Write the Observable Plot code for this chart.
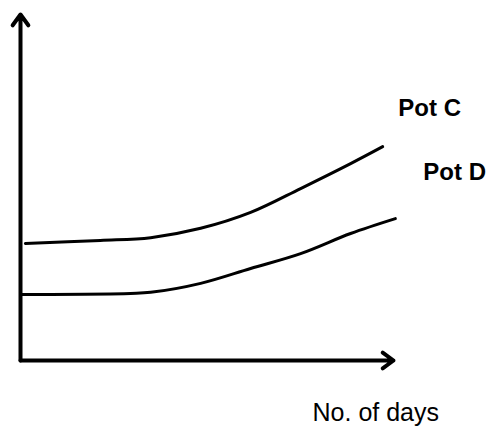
<!DOCTYPE html>
<html>
<head>
<meta charset="utf-8">
<script src="https://cdn.jsdelivr.net/npm/d3@7"></script>
<script src="https://cdn.jsdelivr.net/npm/@observablehq/plot@0.6"></script>
<style>
  html, body { margin: 0; padding: 0; background: #fff; }
  #chart svg { display: block; }
</style>
</head>
<body>
<div id="chart"></div>
<script>
// Series: day position vs. height (arbitrary units)
const daysC = [0.13, 2.14, 3.49, 4.83, 6.17, 7.51, 8.85, 9.71];
const valuesC = [3.38, 3.47, 3.55, 3.82, 4.28, 4.97, 5.69, 6.18];
const daysD = [0, 2.95, 3.49, 4.83, 6.17, 7.51, 8.85, 10.05];
const valuesD = [1.91, 1.94, 1.97, 2.23, 2.66, 3.09, 3.67, 4.10];

const seriesNames = ["Pot C", "Pot D"];
const labelX = [10.13, 10.80];
const labelY = [7.28, 5.43];
const xAxisTitle = "No. of days";
const xAxisTitlePos = [7.83, -1.52];
const axisMax = [10, 10];

const lineC = daysC.map((d, i) => ({day: d, value: valuesC[i]}));
const lineD = daysD.map((d, i) => ({day: d, value: valuesD[i]}));
const labels = seriesNames.map((s, i) => ({name: s, x: labelX[i], y: labelY[i]}));

const chart = Plot.plot({
  width: 497,
  height: 429,
  marginLeft: 20,
  marginRight: 104,
  marginTop: 14,
  marginBottom: 69,
  x: {domain: [0, axisMax[0]], axis: null},
  y: {domain: [0, axisMax[1]], axis: null},
  style: {background: "#fff", fontFamily: "'Liberation Sans', Arial, sans-serif"},
  marks: [
    Plot.arrow([{x1: 0, y1: 0, x2: 0, y2: axisMax[1]}], {
      x1: "x1", y1: "y1", x2: "x2", y2: "y2",
      stroke: "#000", strokeWidth: 4, headLength: 5, headAngle: 72, strokeLinecap: "round"
    }),
    Plot.arrow([{x1: 0, y1: 0, x2: axisMax[0], y2: 0}], {
      x1: "x1", y1: "y1", x2: "x2", y2: "y2",
      stroke: "#000", strokeWidth: 4, headLength: 5, headAngle: 72, strokeLinecap: "round"
    }),
    Plot.line(lineC, {x: "day", y: "value", stroke: "#000", strokeWidth: 3, curve: "catmull-rom"}),
    Plot.line(lineD, {x: "day", y: "value", stroke: "#000", strokeWidth: 3, curve: "catmull-rom"}),
    Plot.text(labels, {x: "x", y: "y", text: "name", textAnchor: "start", fontSize: 24, fontWeight: "bold", fill: "#000"}),
    Plot.text([xAxisTitle], {x: xAxisTitlePos[0], y: xAxisTitlePos[1], text: d => d, textAnchor: "start", fontSize: 25, fill: "#000"})
  ]
});
document.getElementById("chart").appendChild(chart);
</script>
</body>
</html>
